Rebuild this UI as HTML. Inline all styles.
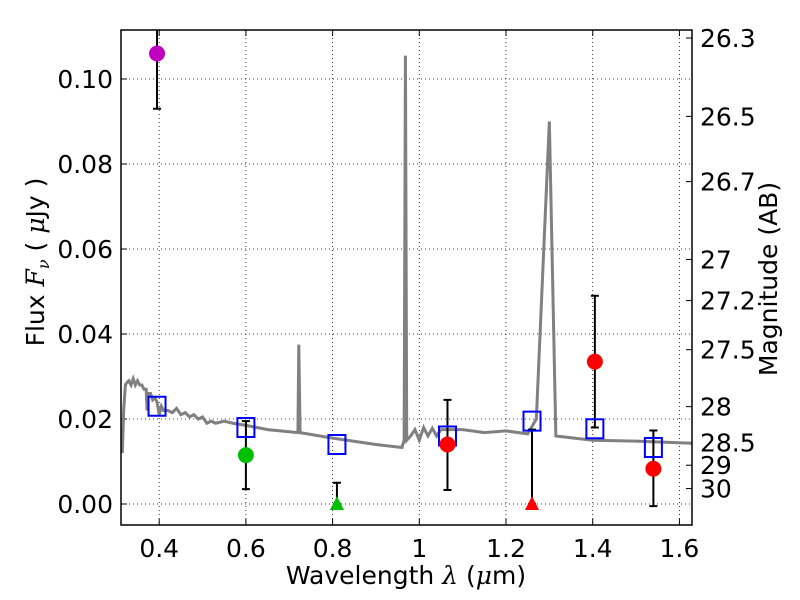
<!DOCTYPE html>
<html><head><meta charset="utf-8"><style>
body{margin:0;background:#fff;}
svg{display:block;font-family:"DejaVu Sans","Liberation Sans",sans-serif;}
</style></head><body>
<svg id="chart" width="800" height="600"></svg>
<script>
const specLam=[0.312,0.315,0.318,0.322,0.325,0.33,0.335,0.34,0.345,0.35,0.355,0.36,0.365,0.37,0.372,0.375,0.38,0.385,0.39,0.395,0.40,0.405,0.41,0.42,0.43,0.44,0.45,0.46,0.47,0.48,0.49,0.5,0.51,0.52,0.53,0.55,0.57,0.6,0.65,0.72,0.722,0.725,0.8,0.9,0.96,0.965,0.968,0.971,0.98,0.99,1.0,1.01,1.02,1.03,1.04,1.05,1.1,1.15,1.2,1.25,1.27,1.30,1.315,1.4,1.5,1.63];
const specF=[0.017,0.012,0.022,0.028,0.0285,0.029,0.028,0.0295,0.028,0.029,0.028,0.028,0.027,0.027,0.022,0.026,0.026,0.0245,0.025,0.024,0.021,0.023,0.022,0.022,0.0215,0.0225,0.021,0.0215,0.0205,0.021,0.02,0.0205,0.019,0.0195,0.019,0.0195,0.019,0.0185,0.0175,0.0168,0.0375,0.0168,0.0155,0.014,0.0133,0.015,0.1055,0.015,0.016,0.0175,0.015,0.018,0.016,0.0178,0.016,0.0175,0.0175,0.0168,0.0172,0.0165,0.02,0.090,0.016,0.015,0.0148,0.0143];
const sqLam=[0.395,0.6,0.81,1.065,1.26,1.405,1.54];
const sqF=[0.023,0.018,0.014,0.016,0.0195,0.0177,0.0133];
const ptLam=[0.395,0.6,0.81,1.065,1.26,1.405,1.54];
const ptF=[0.106,0.0115,0,0.014,0,0.0335,0.0083];
const ptLo=[0.093,0.0035,0,0.0033,0,0.018,-0.0005];
const ptHi=[0.113,0.0195,0.005,0.0245,0.0175,0.049,0.0173];
const ptColor=['#bf00bf','#00bf00','#00bf00','red','red','red','red'];
const ptShape=['o','o','^','o','^','o','o'];
const xTicks=[0.4,0.6,0.8,1,1.2,1.4,1.6];
const yTicks=[0,0.02,0.04,0.06,0.08,0.10];
const magTicks=[26.3,26.5,26.7,27,27.2,27.5,28,28.5,29,30];

const L=121,R=692,T=30,B=525,FS=25;
const X=v=>419.3+(v-1)*433.5;
const Y=v=>504-v*4250;
const svg=document.getElementById('chart');
const NS='http://www.w3.org/2000/svg';
function mk(tag,attrs,parent){const e=document.createElementNS(NS,tag);for(const k in attrs)e.setAttribute(k,attrs[k]);(parent||svg).appendChild(e);return e;}
const clip=mk('clipPath',{id:'c'});mk('rect',{x:L,y:T,width:R-L,height:B-T},clip);
xTicks.forEach(t=>{const g=mk('line',{x1:X(t),x2:X(t),y1:T,y2:B,stroke:'#000','stroke-width':0.8,'stroke-dasharray':'1,3'});

mk('line',{x1:X(t),x2:X(t),y1:B,y2:B-6,stroke:'#000'});mk('line',{x1:X(t),x2:X(t),y1:T,y2:T+6,stroke:'#000'});
const tx=mk('text',{x:X(t),y:B+32,'text-anchor':'middle','font-size':FS});tx.textContent=String(t);
});
yTicks.forEach(t=>{const g=mk('line',{x1:L,x2:R,y1:Y(t),y2:Y(t),stroke:'#000','stroke-width':0.8,'stroke-dasharray':'1,3'});

mk('line',{x1:L,x2:L+6,y1:Y(t),y2:Y(t),stroke:'#000'});
const tx=mk('text',{x:L-8,y:Y(t)+9,'text-anchor':'end','font-size':FS});tx.textContent=t.toFixed(2);
});
magTicks.forEach(m=>{const f=Math.pow(10,(23.9-m)/2.5);const y=Y(f);
mk('line',{x1:R-6,x2:R,y1:y,y2:y,stroke:'#000'});
const tx=mk('text',{x:R+8,y:y+9,'font-size':FS});tx.textContent=String(m);
});
const g=mk('g',{'clip-path':'url(#c)'});
const sp=mk('polyline',{points:specLam.map((l,i)=>X(l)+','+Y(specF[i])).join(' '),fill:'none',stroke:'#808080','stroke-width':3},g);

ptLam.forEach((l,i)=>{const x=X(l);
const e=mk('g',{},g);
mk('line',{x1:x,x2:x,y1:Y(ptLo[i]),y2:Y(ptHi[i]),stroke:'#000','stroke-width':2},e);
mk('line',{x1:x-4,x2:x+4,y1:Y(ptLo[i]),y2:Y(ptLo[i]),stroke:'#000','stroke-width':2},e);
mk('line',{x1:x-4,x2:x+4,y1:Y(ptHi[i]),y2:Y(ptHi[i]),stroke:'#000','stroke-width':2},e);});
sqLam.forEach((l,i)=>{const r=mk('rect',{x:X(l)-8.5,y:Y(sqF[i])-9.5,width:17,height:19,fill:'none',stroke:'#0000ff','stroke-width':2},g);
});
ptLam.forEach((l,i)=>{const x=X(l),y=Y(ptF[i]);let m;
if(ptShape[i]==='o')m=mk('circle',{cx:x,cy:y,r:8,fill:ptColor[i]},g);
else m=mk('polygon',{points:`${x},${y-8} ${x-7},${y+6} ${x+7},${y+6}`,fill:ptColor[i]},g);
});
const fr=mk('rect',{x:L,y:T,width:R-L,height:B-T,fill:'none',stroke:'#000','stroke-width':1.5});

const xt=mk('text',{x:406,y:584,'text-anchor':'middle','font-size':FS});xt.innerHTML='Wavelength  <tspan font-style="italic" font-family="DejaVu Serif">λ</tspan> (<tspan font-style="italic" font-family="DejaVu Serif">μ</tspan>m)';

const yt=mk('text',{x:0,y:0,'text-anchor':'middle','font-size':FS,transform:'translate(44,262) rotate(-90)'});yt.innerHTML='Flux  <tspan font-style="italic" font-family="DejaVu Serif">F<tspan font-size="16" dy="5">ν</tspan></tspan><tspan dy="-5">  (  </tspan><tspan font-style="italic" font-family="DejaVu Serif">μ</tspan>Jy )';

const rt=mk('text',{x:0,y:0,'text-anchor':'middle','font-size':FS,transform:'translate(777,279) rotate(-90)'});rt.textContent='Magnitude (AB)';

</script>
</body></html>
